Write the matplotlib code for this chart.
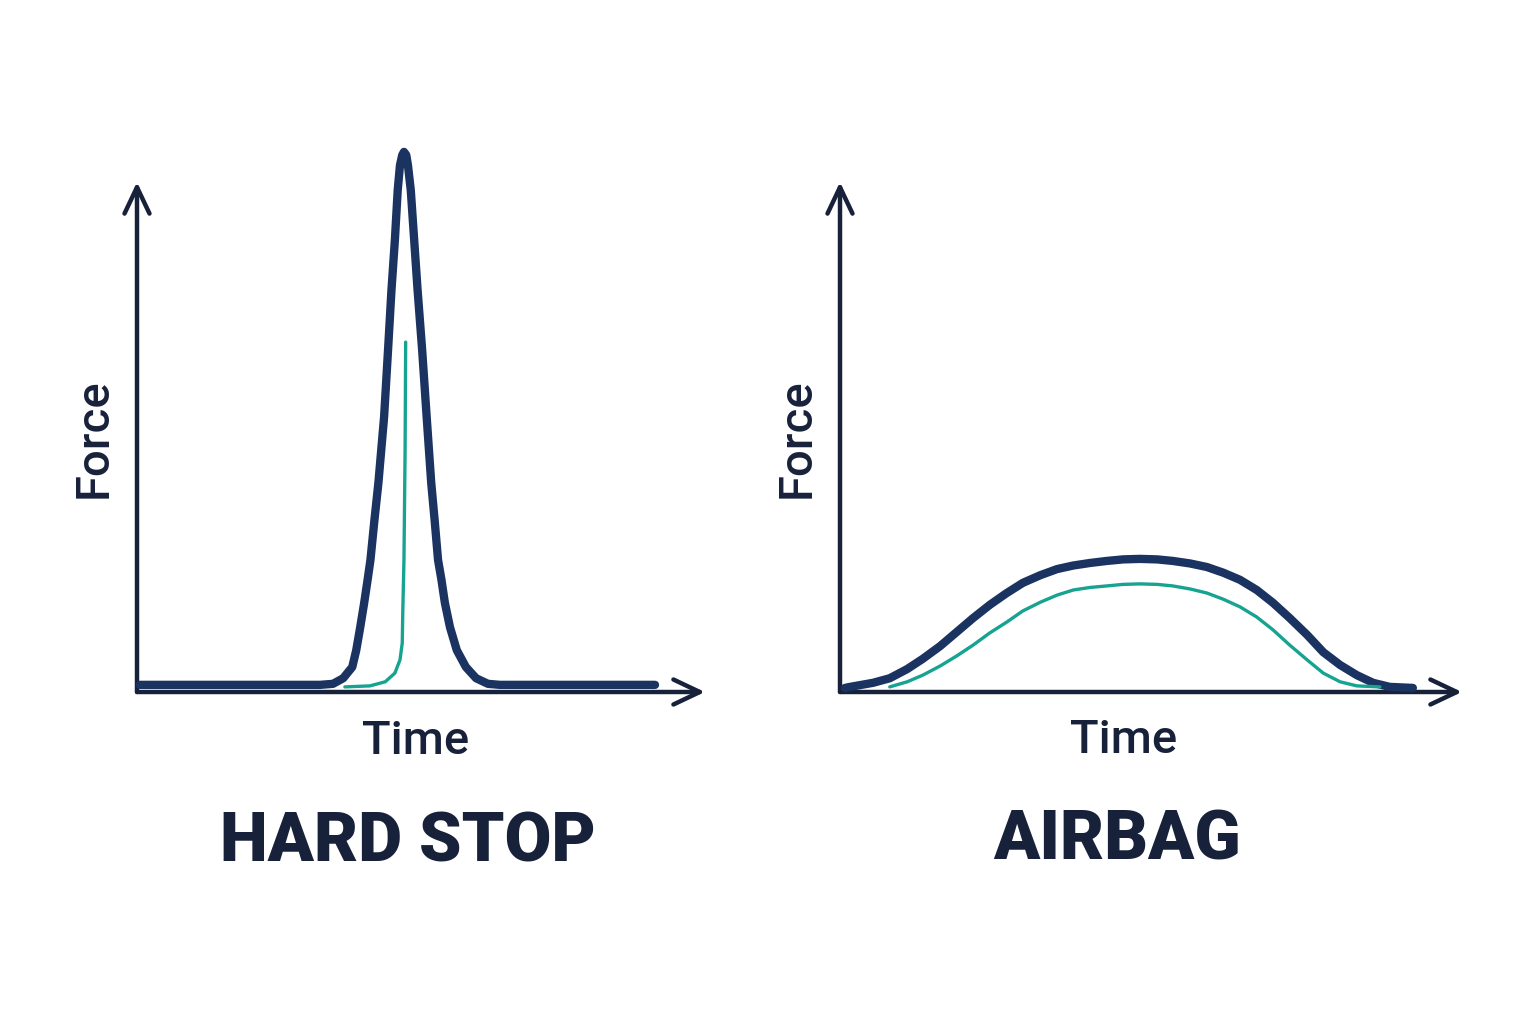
import matplotlib.pyplot as plt

# hard stop: force vs time (both in % of the axis length)
hard_t = [0.5, 32.2, 34.5, 36.3, 37.9, 38.6, 39.3, 40.0, 40.6, 41.1, 41.8, 42.5, 43.5, 44.2,
          44.8, 45.4, 45.9, 46.3, 46.7, 47.0, 47.4, 47.7, 48.2, 48.8, 49.4, 50.2, 51.0, 51.8,
          52.4, 53.0, 53.6, 54.2, 55.1, 56.3, 57.9, 59.7, 61.8, 63.9, 91.2]
hard_f = [1.4, 1.4, 1.6, 2.7, 4.9, 8.2, 12.7, 17.5, 22.0, 25.9, 33.7, 41.0, 53.9, 67.1,
          78.8, 88.6, 98.4, 103.3, 105.3, 105.9, 105.3, 103.3, 98.4, 88.6, 78.8, 67.1, 53.9, 41.0,
          33.7, 25.9, 22.0, 17.5, 12.7, 8.2, 4.9, 2.7, 1.6, 1.4, 1.4]
hard_t2 = [36.6, 41.0, 43.7, 45.4, 46.3, 46.7, 46.8, 47.0, 47.2, 47.3]
hard_f2 = [1.0, 1.2, 2.0, 3.7, 6.3, 9.6, 16.1, 25.9, 47.5, 68.6]

# airbag
air_t = [0.8, 1.6, 5.3, 8.0, 10.8, 13.3, 16.1, 18.8, 21.4, 24.1, 26.8, 29.4, 32.2, 34.9,
         37.5, 40.2, 42.9, 45.5, 48.2, 51.0, 53.5, 56.3, 59.0, 61.6, 64.3, 67.0, 69.6, 72.3,
         75.1, 77.7, 80.4, 83.1, 85.7, 88.4, 92.1]
air_f = [0.8, 1.0, 1.8, 2.7, 4.5, 6.5, 9.0, 11.8, 14.5, 17.1, 19.4, 21.4, 22.9, 24.1,
         24.8, 25.3, 25.7, 26.0, 26.1, 26.0, 25.7, 25.2, 24.5, 23.4, 22.0, 20.0, 17.5, 14.5,
         11.2, 7.8, 5.3, 3.3, 1.8, 1.0, 0.8]
air_t2 = [8.0, 10.8, 13.3, 16.1, 18.8, 21.4, 24.1, 26.8, 29.4, 32.2, 34.9, 37.5, 40.2, 42.9,
          45.5, 48.2, 51.0, 53.5, 56.3, 59.0, 61.6, 64.3, 67.0, 69.6, 72.3, 75.1, 77.7, 80.4,
          83.1, 86.8]
air_f2 = [1.0, 2.0, 3.3, 5.1, 7.1, 9.2, 11.6, 13.7, 15.9, 17.6, 19.0, 20.0, 20.5, 20.8,
          21.1, 21.2, 21.1, 20.8, 20.2, 19.4, 18.2, 16.7, 14.7, 12.2, 9.2, 6.3, 3.7, 2.0,
          1.2, 1.0]

titles = ["HARD STOP", "AIRBAG"]

navy = "#1b3360"
axis_col = "#17213a"
teal = "#17a391"
text_col = "#17213a"

fam = ["Roboto", "DejaVu Sans"]

fig = plt.figure(figsize=(15.36, 10.24), dpi=100)
W, H = 1536, 1024

def make_axes(x0, y0, x1, y1):
    # pixel box (origin to arrow tips) -> axes
    ax = fig.add_axes([x0 / W, (H - y0) / H, (x1 - x0) / W, (y0 - y1) / H])
    ax.set_xlim(0, 100)
    ax.set_ylim(0, 100)
    ax.axis("off")
    for xy in [(1, 0), (0, 1)]:
        ax.annotate("", xy=xy, xytext=(0, 0), xycoords="axes fraction",
                    arrowprops=dict(arrowstyle="->,head_length=1.9,head_width=0.9",
                                    lw=3.2, color=axis_col, shrinkA=0, shrinkB=0,
                                    mutation_scale=10, joinstyle="round", capstyle="round"))
    return ax

def curve(ax, t, f, c, lw, z):
    ax.plot(t, f, color=c, lw=lw, solid_joinstyle="round",
            solid_capstyle="round", clip_on=False, zorder=z)

ax1 = make_axes(137, 692, 705, 182)
curve(ax1, hard_t, hard_f, navy, 6, 3)
curve(ax1, hard_t2, hard_f2, teal, 2.4, 4)

ax2 = make_axes(840, 692, 1462, 182)
curve(ax2, air_t, air_f, navy, 6, 3)
curve(ax2, air_t2, air_f2, teal, 2.4, 4)

def ftext(x, y, s, **kw):
    fig.text(x / W, (H - y) / H, s, color=text_col, family=fam, **kw)

ftext(107, 438, "Force", fontsize=34, fontweight="medium", rotation=90,
      rotation_mode="anchor", ha="center", va="baseline")
ftext(810, 438, "Force", fontsize=34, fontweight="medium", rotation=90,
      rotation_mode="anchor", ha="center", va="baseline")
ftext(416, 754, "Time", fontsize=34, fontweight="medium", ha="center", va="baseline")
ftext(1124, 753, "Time", fontsize=34, fontweight="medium", ha="center", va="baseline")
ftext(408, 862, titles[0], fontsize=49, fontweight="black", ha="center", va="baseline")
ftext(1117, 860, titles[1], fontsize=49, fontweight="black", ha="center", va="baseline")

fig.savefig("out.png", dpi=100, facecolor="white")
